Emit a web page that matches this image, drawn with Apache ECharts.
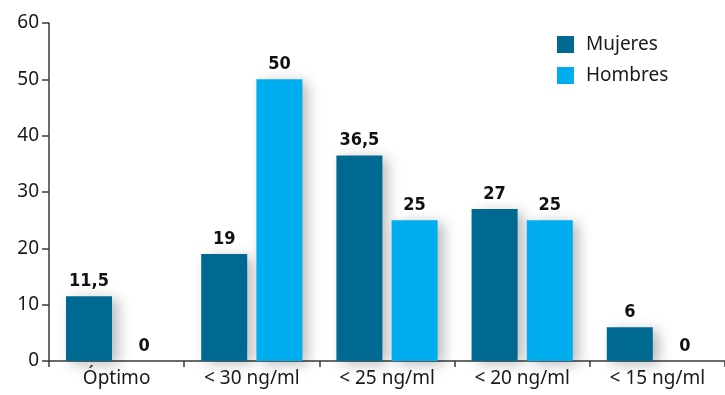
<!DOCTYPE html>
<html>
<head>
<meta charset="utf-8">
<script src="https://cdn.jsdelivr.net/npm/echarts@6/dist/echarts.min.js"></script>
<style>
  html, body { margin: 0; padding: 0; background: #fff; }
  #chart { width: 725px; height: 395px; }
</style>
</head>
<body>
<div id="chart"></div>
<script>
// Vitamin D levels by group (%)
const categories = ['Óptimo', '< 30 ng/ml', '< 25 ng/ml', '< 20 ng/ml', '< 15 ng/ml'];
const mujeres = [11.5, 19, 36.5, 27, 6];
const hombres = [0, 50, 25, 25, 0];
const yTicks = { min: 0, max: 60, interval: 10 };

const axisColor = '#3a3a3a';
const textFont = '"Noto Sans", sans-serif';
const labelFont = '"DejaVu Sans Condensed", "Roboto", sans-serif';

const barShadow = {
  shadowColor: 'rgba(0,0,0,0.28)',
  shadowBlur: 13,
  shadowOffsetX: 6,
  shadowOffsetY: 3
};

const valueLabel = {
  show: true,
  position: 'top',
  distance: 6,
  color: '#111',
  fontFamily: labelFont,
  fontWeight: 'bold',
  fontSize: 18,
  formatter: p => String(p.value).replace('.', ',')
};

const chart = echarts.init(document.getElementById('chart'), null, { renderer: 'canvas' });
chart.setOption({
  animation: false,
  grid: { left: 49, top: 23, width: 680, bottom: 34, containLabel: false },
  legend: {
    orient: 'vertical',
    left: 557,
    top: 35,
    padding: 0,
    itemWidth: 17,
    itemHeight: 17,
    itemGap: 12,
    icon: 'rect',
    textStyle: { fontFamily: textFont, fontSize: 19, color: '#1a1a1a', padding: [0, 0, 0, 7] },
    data: ['Mujeres', 'Hombres']
  },
  xAxis: {
    type: 'category',
    data: categories,
    axisLine: { lineStyle: { color: axisColor, width: 1.5 } },
    axisTick: { show: true, length: 6, alignWithLabel: false, lineStyle: { color: axisColor, width: 1.5 } },
    axisLabel: { fontFamily: textFont, fontSize: 19, color: '#1a1a1a', margin: 8 }
  },
  yAxis: {
    type: 'value',
    min: yTicks.min,
    max: yTicks.max,
    interval: yTicks.interval,
    axisLine: { show: true, lineStyle: { color: axisColor, width: 1.5 } },
    axisTick: { show: true, length: 7, lineStyle: { color: axisColor, width: 1.5 } },
    splitLine: { show: false },
    axisLabel: { fontFamily: textFont, fontSize: 19, color: '#1a1a1a', margin: 10 }
  },
  series: [
    {
      name: 'Mujeres',
      type: 'bar',
      data: mujeres,
      barWidth: 46,
      barGap: '20%',
      itemStyle: Object.assign({ color: '#006991' }, barShadow),
      label: valueLabel
    },
    {
      name: 'Hombres',
      type: 'bar',
      data: hombres,
      barWidth: 46,
      itemStyle: Object.assign({ color: '#00adee' }, barShadow),
      label: valueLabel
    }
  ]
});
</script>
</body>
</html>
